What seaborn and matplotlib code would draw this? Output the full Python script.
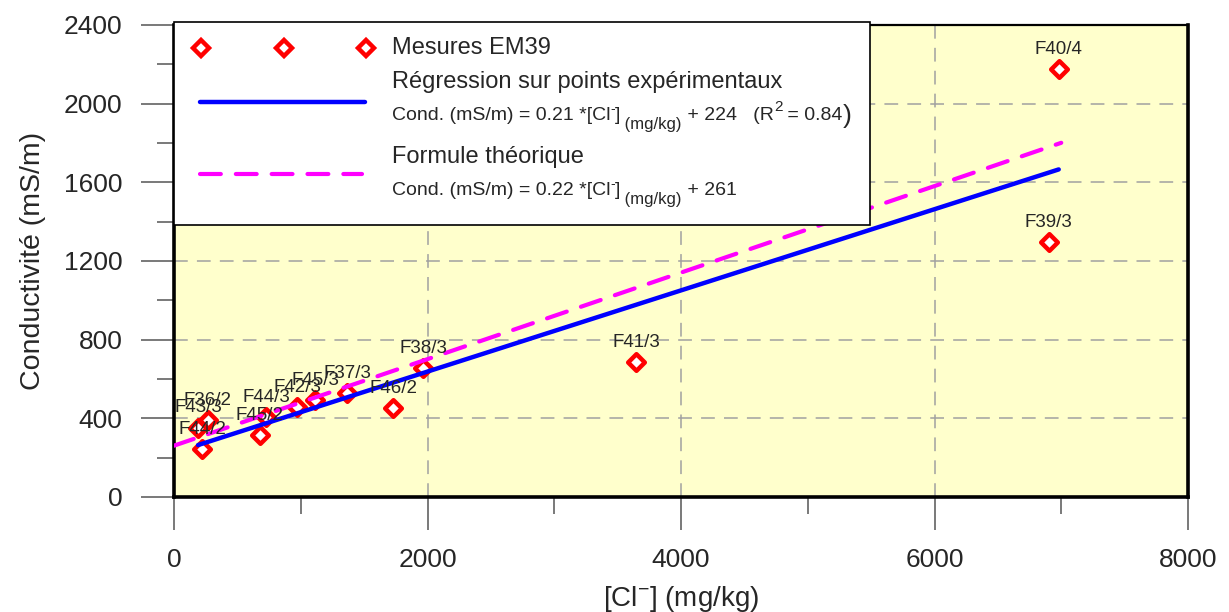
import numpy as np
import pandas as pd
import matplotlib
matplotlib.use('Agg')
import matplotlib.pyplot as plt
import seaborn as sns
from matplotlib.lines import Line2D
from matplotlib.patches import Rectangle
from matplotlib.ticker import MultipleLocator

# Data
sites = ["F40/4", "F39/3", "F41/3", "F38/3", "F46/2", "F37/3", "F45/3",
         "F42/3", "F44/3", "F45/2", "F36/2", "F43/3", "F44/2"]
chlorures = [6980, 6900, 3645, 1965, 1730, 1365, 1115, 970, 725, 675, 268, 190, 221]
conductivite = [2175, 1295, 685, 655, 452, 527, 495, 456, 405, 313, 392, 353, 242]

# Theoretical formula (from the legend)
theo_slope = 0.22
theo_intercept = 261
theo_x = np.array([0, 7000])

df = pd.DataFrame({'site': sites, 'cl': chlorures, 'cond': conductivite})

sns.set_style("ticks")
plt.rcParams['font.family'] = ['Liberation Sans', 'DejaVu Sans']
plt.rcParams['mathtext.fontset'] = 'custom'
plt.rcParams['mathtext.rm'] = 'Liberation Sans'
plt.rcParams['mathtext.it'] = 'Liberation Sans:italic'
plt.rcParams['mathtext.bf'] = 'Liberation Sans:bold'

W, H = 1229, 612
def fx(px):
    return px / W
def fy(py):
    return 1 - py / H

fig = plt.figure(figsize=(W / 100, H / 100), dpi=100)
ax = fig.add_axes([fx(174), fy(497), 1014 / W, 472 / H])
ax.set_facecolor('#FFFFCC')

RED = '#FF0000'
BLUE = '#0000FF'
MAGENTA = '#FF00FF'
dash = (0, (5, 3.6))

# measurements
sns.scatterplot(data=df, x='cl', y='cond', marker='D', s=72, color='white',
                edgecolor=RED, linewidth=3.2, zorder=3, ax=ax, legend=False)

# regression on the experimental points
sns.regplot(data=df, x='cl', y='cond', scatter=False, ci=None, truncate=True,
            color=BLUE, line_kws=dict(lw=3.2, zorder=4), ax=ax)

# theoretical formula
ax.plot(theo_x, theo_slope * theo_x + theo_intercept, color=MAGENTA, lw=3,
        ls=dash, dash_capstyle='round', zorder=4)

for name, x, y in zip(sites, chlorures, conductivite):
    ax.annotate(name, (x, y), xytext=(0, 8), textcoords='offset points',
                ha='center', va='bottom', fontsize=13.5, zorder=5)

ax.set_xlim(0, 8000)
ax.set_ylim(0, 2400)
ax.xaxis.set_major_locator(MultipleLocator(2000))
ax.xaxis.set_minor_locator(MultipleLocator(1000))
ax.yaxis.set_major_locator(MultipleLocator(400))
ax.yaxis.set_minor_locator(MultipleLocator(200))
ax.tick_params(which='major', direction='out', length=24, width=1.1,
               color='#555555', labelsize=19, pad=13)
ax.tick_params(which='minor', direction='out', length=12, width=1.1,
               color='#555555')
ax.grid(True, which='major', color='#A0A0A0', ls=(0, (9, 6)), lw=1.1)
ax.set_axisbelow(True)
for side, s in ax.spines.items():
    s.set_color('black')
    s.set_linewidth(1.6 if side == 'top' else 2.6)

ax.set_xlabel(r"[Cl$^{-}$] (mg/kg)", fontsize=20, labelpad=8)
ax.set_ylabel("Conductivité (mS/m)", fontsize=20.5, labelpad=13)

# legend box
x0, x1 = 0.0, (870 - 174) / 1014
y0, y1 = (497 - 225) / 472, (497 - 22) / 472
ax.add_patch(Rectangle((x0, y0), x1 - x0, y1 - y0, transform=ax.transAxes,
                       facecolor='white', edgecolor='black', lw=1.2,
                       zorder=6, clip_on=False))

fig.add_artist(Line2D([fx(201), fx(284), fx(366)], [fy(48)] * 3,
                      transform=fig.transFigure, ls='none', marker='D',
                      ms=8.5, mfc='white', mec=RED, mew=3.2, zorder=10))
fig.add_artist(Line2D([fx(200), fx(365)], [fy(102)] * 2, transform=fig.transFigure,
                      color=BLUE, lw=3.2, zorder=10))
fig.add_artist(Line2D([fx(200), fx(362)], [fy(174)] * 2, transform=fig.transFigure,
                      color=MAGENTA, lw=3, ls=dash, dash_capstyle='round', zorder=10))

fig.text(fx(392), fy(48), "Mesures EM39", fontsize=17, va='center', zorder=10)
fig.text(fx(392), fy(82), "Régression sur points expérimentaux", fontsize=17,
         va='center', zorder=10)
fig.text(fx(392), fy(157), "Formule théorique", fontsize=17, va='center', zorder=10)


def chain_text(px, py, pieces):
    t = fig.text(fx(px), fy(py), pieces[0][0], fontsize=pieces[0][1],
                 va='bottom', ha='left', zorder=10)
    for s, size, dy in pieces[1:]:
        t = ax.annotate(s, xy=(1, 0), xycoords=t, xytext=(0, dy),
                        textcoords='offset points', fontsize=size,
                        va='bottom', ha='left', zorder=10)


chain_text(392, 124, [("Cond. (mS/m) = 0.21 *[Cl", 14, 0), ("-", 10, 6),
                      ("]", 14, -6), (" (mg/kg)", 12, -6), (" + 224", 14, 6),
                      ("   (R", 14, 0), ("2", 11, 7), (" = 0.84", 14, -7),
                      (")", 19, -3)])
chain_text(392, 199, [("Cond. (mS/m) = 0.22 *[Cl", 14, 0), ("-", 10, 6),
                      ("]", 14, -6), (" (mg/kg)", 12, -6), (" + 261", 14, 6)])

fig.savefig('out.png', dpi=100)
